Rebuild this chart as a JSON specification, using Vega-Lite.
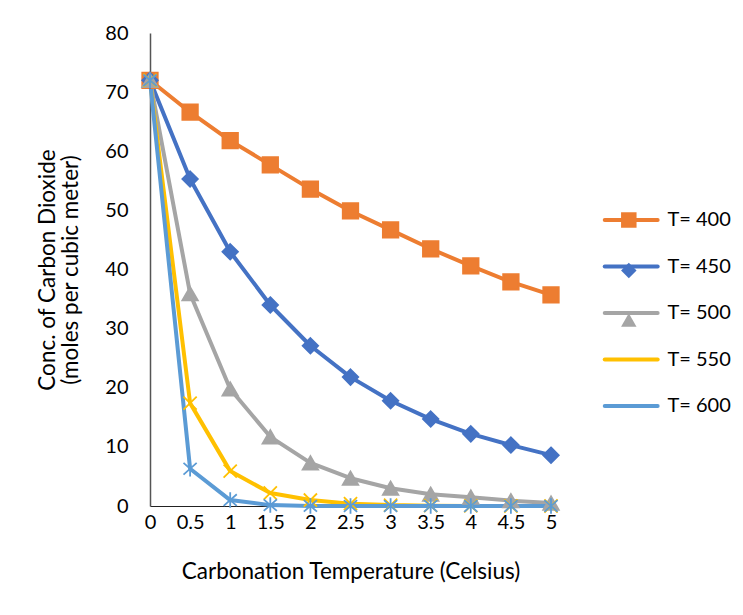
{
  "$schema": "https://vega.github.io/schema/vega-lite/v6.json",
  "width": 401,
  "height": 473,
  "autosize": "none",
  "padding": {"left": 150, "top": 33, "right": 192, "bottom": 109},
  "background": "white",
  "config": {
    "view": {"stroke": null},
    "font": "Lato",
    "axis": {"labelFont": "Lato", "titleFont": "Lato", "labelColor": "#000", "titleColor": "#000", "titleFontWeight": "normal", "labelFontSize": 20, "titleFontSize": 22.5, "grid": false, "ticks": false},
    "legend": {"labelFont": "Lato", "labelFontSize": 20, "labelColor": "#000", "padding": 0}
  },
  "data": {"values": [
    {"T": "T= 400", "x": 0, "y": 72}, {"T": "T= 400", "x": 0.5, "y": 66.6}, {"T": "T= 400", "x": 1, "y": 61.8}, {"T": "T= 400", "x": 1.5, "y": 57.7}, {"T": "T= 400", "x": 2, "y": 53.6}, {"T": "T= 400", "x": 2.5, "y": 49.9}, {"T": "T= 400", "x": 3, "y": 46.7}, {"T": "T= 400", "x": 3.5, "y": 43.5}, {"T": "T= 400", "x": 4, "y": 40.6}, {"T": "T= 400", "x": 4.5, "y": 37.9}, {"T": "T= 400", "x": 5, "y": 35.7},
    {"T": "T= 450", "x": 0, "y": 72}, {"T": "T= 450", "x": 0.5, "y": 55.3}, {"T": "T= 450", "x": 1, "y": 43.0}, {"T": "T= 450", "x": 1.5, "y": 34.0}, {"T": "T= 450", "x": 2, "y": 27.1}, {"T": "T= 450", "x": 2.5, "y": 21.8}, {"T": "T= 450", "x": 3, "y": 17.8}, {"T": "T= 450", "x": 3.5, "y": 14.7}, {"T": "T= 450", "x": 4, "y": 12.2}, {"T": "T= 450", "x": 4.5, "y": 10.3}, {"T": "T= 450", "x": 5, "y": 8.6},
    {"T": "T= 500", "x": 0, "y": 72}, {"T": "T= 500", "x": 0.5, "y": 35.9}, {"T": "T= 500", "x": 1, "y": 19.8}, {"T": "T= 500", "x": 1.5, "y": 11.7}, {"T": "T= 500", "x": 2, "y": 7.3}, {"T": "T= 500", "x": 2.5, "y": 4.7}, {"T": "T= 500", "x": 3, "y": 3.0}, {"T": "T= 500", "x": 3.5, "y": 2.0}, {"T": "T= 500", "x": 4, "y": 1.5}, {"T": "T= 500", "x": 4.5, "y": 0.9}, {"T": "T= 500", "x": 5, "y": 0.5},
    {"T": "T= 550", "x": 0, "y": 72}, {"T": "T= 550", "x": 0.5, "y": 17.4}, {"T": "T= 550", "x": 1, "y": 5.9}, {"T": "T= 550", "x": 1.5, "y": 2.2}, {"T": "T= 550", "x": 2, "y": 1.0}, {"T": "T= 550", "x": 2.5, "y": 0.4}, {"T": "T= 550", "x": 3, "y": 0.15}, {"T": "T= 550", "x": 3.5, "y": 0.06}, {"T": "T= 550", "x": 4, "y": 0.02}, {"T": "T= 550", "x": 4.5, "y": 0.01}, {"T": "T= 550", "x": 5, "y": 0.0},
    {"T": "T= 600", "x": 0, "y": 72}, {"T": "T= 600", "x": 0.5, "y": 6.3}, {"T": "T= 600", "x": 1, "y": 1.0}, {"T": "T= 600", "x": 1.5, "y": 0.15}, {"T": "T= 600", "x": 2, "y": 0.02}, {"T": "T= 600", "x": 2.5, "y": 0}, {"T": "T= 600", "x": 3, "y": 0}, {"T": "T= 600", "x": 3.5, "y": 0}, {"T": "T= 600", "x": 4, "y": 0}, {"T": "T= 600", "x": 4.5, "y": 0}, {"T": "T= 600", "x": 5, "y": 0}
  ]},
  "encoding": {
    "x": {"field": "x", "type": "quantitative", "scale": {"domain": [0, 5], "nice": false, "zero": false},
      "axis": {"values": [0, 0.5, 1, 1.5, 2, 2.5, 3, 3.5, 4, 4.5, 5], "format": "~g", "title": "Carbonation Temperature (Celsius)", "domainColor": "#222", "domainWidth": 1, "labelPadding": 6, "titlePadding": 28, "labelFlush": false}},
    "y": {"field": "y", "type": "quantitative", "scale": {"domain": [0, 80], "nice": false},
      "axis": {"values": [0, 10, 20, 30, 40, 50, 60, 70, 80], "title": ["Conc. of Carbon Dioxide", "(moles per cubic meter)"], "domainColor": "#555", "domainWidth": 1.5, "labelPadding": 22, "titlePadding": 22, "titleLineHeight": 23}}
  },
  "layer": [
    {
      "mark": {"type": "line", "strokeWidth": 4, "strokeCap": "round", "strokeJoin": "round"},
      "encoding": {
        "stroke": {"field": "T", "type": "nominal",
          "scale": {"domain": ["T= 400", "T= 450", "T= 500", "T= 550", "T= 600"], "range": ["#ED7D31", "#4472C4", "#A5A5A5", "#FFC000", "#5B9BD5"]},
          "legend": {"title": null, "orient": "none", "legendX": 471.2, "legendY": 177, "symbolType": "M-5,0H5", "symbolSize": 112, "symbolStrokeWidth": 4, "symbolFillColor": "transparent", "labelOffset": 26.2, "rowPadding": 26.5, "zindex": 0,
            "encode": {"symbols": {"update": {"strokeCap": {"value": "round"}, "opacity": {"value": 1}}}}}}
      }
    },
    {
      "mark": {"type": "point", "filled": true, "size": 240, "strokeWidth": 1.8, "opacity": 1},
      "encoding": {
        "shape": {"field": "T", "type": "nominal",
          "scale": {"range": ["square", "M0,-1L1,0L0,1L-1,0Z", "triangle-up", "M-0.85,-0.85L0.85,0.85M-0.85,0.85L0.85,-0.85", "M0,-1L0,1M-0.85,-0.75L0.85,0.75M-0.85,0.75L0.85,-0.75"]},
          "legend": {"title": null, "orient": "none", "legendX": 468.8, "legendY": 177, "symbolSize": 240, "symbolStrokeWidth": 1.8, "labelExpr": "''", "labelOffset": 0, "rowPadding": 26.5, "zindex": 1,
            "encode": {"symbols": {"update": {"fill": {"scale": "stroke", "field": "value"}, "stroke": {"scale": "stroke", "field": "value"}, "opacity": {"value": 1}}}}}},
        "fill": {"field": "T", "type": "nominal", "scale": {"range": ["#ED7D31", "#4472C4", "#A5A5A5", "#FFC000", "#5B9BD5"]}, "legend": null},
        "stroke": {"field": "T", "type": "nominal"}
      }
    }
  ]
}
